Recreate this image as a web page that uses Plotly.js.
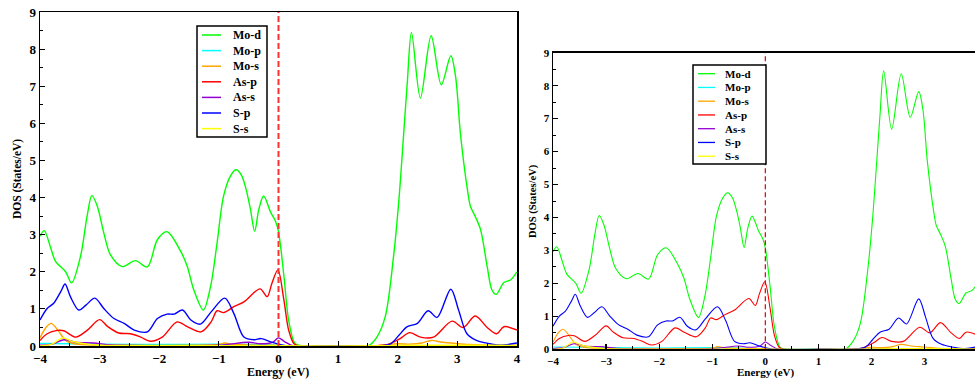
<!DOCTYPE html>
<html><head><meta charset="utf-8">
<script src="https://cdn.plot.ly/plotly-3.0.1.min.js"></script>
<style>html,body{margin:0;padding:0;background:#fff}</style>
</head><body><div id="chart" style="width:975px;height:383px"></div>
<script>
// ---------- data ----------
const seriesNames = ["Mo-d","Mo-p","Mo-s","As-p","As-s","S-p","S-s"];

const eModD = [-4,-3.93,-3.82,-3.74,-3.57,-3.47,-3.32,-3.21,-3.13,-3.04,-2.93,-2.82,-2.62,-2.4,-2.2,-2.03,-1.87,-1.64,-1.53,-1.42,-1.26,-1.14,-1.03,-0.92,-0.8,-0.71,-0.62,-0.54,-0.47,-0.4,-0.33,-0.25,-0.13,-0.05,0,0.09,0.17,0.28,0.4,0.8,1.2,1.5,1.65,1.79,1.93,2.02,2.1,2.16,2.23,2.38,2.56,2.73,2.89,2.97,3.05,3.17,3.22,3.3,3.39,3.5,3.58,3.65,3.78,3.89,4];
const dosModD = [2.96,3.11,2.64,2.28,2.0,1.7,2.42,3.5,4.06,3.77,3.05,2.46,2.14,2.3,2.13,2.87,3.08,2.55,2.14,1.51,0.97,1.6,2.78,4.05,4.6,4.75,4.6,4.2,3.68,3.09,3.68,4.04,3.6,3.36,3.08,1.9,0.7,0.06,0,0,0,0,0.24,0.79,2.42,3.95,5.73,7.1,8.45,6.68,8.36,7.04,7.82,7.26,5.74,4.2,3.76,3.49,3.13,2.14,1.51,1.39,1.71,1.78,2.0];

const eMoP = [-4,-3.5,-3,-2,-1,-0.5,0,0.3,1,2,3,4];
const dosMoP = [0.07,0.06,0.05,0.04,0.05,0.04,0.02,0,0,0.01,0.01,0.01];

const eMoS = [-4,-3.9,-3.81,-3.68,-3.57,-3.43,-3.2,-2.5,-1.5,-1.0,-0.9,-0.8,-0.3,0,0.3,1.6,2.0,2.2,2.4,2.56,2.75,2.9,3.2,3.6,4];
const dosMoS = [0.22,0.5,0.61,0.38,0.15,0.06,0.03,0.02,0.02,0.04,0.08,0.05,0.02,0.02,0,0,0.06,0.05,0.08,0.15,0.1,0.08,0.04,0.02,0.02];

const eAsP = [-4,-3.88,-3.71,-3.6,-3.4,-3.21,-3,-2.87,-2.68,-2.48,-2.31,-2.15,-1.95,-1.7,-1.53,-1.3,-1.13,-1.03,-0.92,-0.75,-0.58,-0.31,-0.19,-0.11,-0.01,0.09,0.17,0.26,0.35,1.0,1.6,1.83,2.04,2.2,2.38,2.6,2.91,3.1,3.3,3.5,3.66,3.78,4];
const dosAsP = [0.15,0.33,0.42,0.41,0.24,0.42,0.71,0.53,0.35,0.33,0.24,0.13,0.24,0.65,0.52,0.38,0.65,0.95,0.9,1.06,1.19,1.54,1.33,1.69,2.05,1.24,0.43,0.06,0,0,0,0.04,0.2,0.36,0.24,0.24,0.67,0.5,0.81,0.5,0.33,0.52,0.43];

const eAsS = [-4,-3.8,-3.6,-3.4,-3.1,-2.8,-2.0,-1.0,-0.5,-0.3,-0.1,0,0.1,0.25,1,2.5,4];
const dosAsS = [0.02,0.05,0.17,0.1,0.08,0.03,0.01,0.02,0.1,0.06,0.1,0.22,0.12,0,0,0.01,0.01];

const eSP = [-4,-3.88,-3.77,-3.65,-3.58,-3.49,-3.35,-3.23,-3.08,-2.93,-2.76,-2.59,-2.42,-2.2,-2.03,-1.87,-1.75,-1.61,-1.47,-1.31,-1.13,-0.9,-0.75,-0.58,-0.41,-0.29,-0.13,0,0.15,0.3,1.0,1.6,1.88,2.02,2.16,2.33,2.51,2.66,2.89,3.02,3.16,3.32,3.55,3.72,4];
const dosSP = [0.7,1.01,1.15,1.47,1.67,1.33,0.97,1.1,1.29,1.01,0.74,0.61,0.43,0.38,0.74,0.86,0.86,0.97,0.7,0.59,0.92,1.29,0.88,0.24,0.17,0.2,0.11,0.05,0,0,0,0,0.06,0.29,0.52,0.61,0.95,0.77,1.53,0.97,0.33,0.15,0.06,0.02,0.08];

const eSS = [-4,-3.8,-3.62,-3.45,-3.2,-3.0,-2,0,1,2.5,3.5,4];
const dosSS = [0,0.05,0.22,0.12,0.05,0.02,0.01,0.01,0,0.02,0.02,0.01];

// ---------- styles ----------
const seriesColors = ["#00ff00","#00ffff","#ffa500","#ff0000","#9400d3","#0000ff","#ffff00"];
const seriesX = [eModD,eMoP,eMoS,eAsP,eAsS,eSP,eSS];
const seriesY = [dosModD,dosMoP,dosMoS,dosAsP,dosAsS,dosSP,dosSS];

const W = 975, H = 383;
const px = v => v / W, py = v => 1 - v / H;
const FONT = "Liberation Serif, Times New Roman, serif";

const traces = [];
[["x","y",1.4],["x2","y2",1.1]].forEach(([xa,ya,lw]) => {
  seriesNames.forEach((n,i) => {
    traces.push({
      x: seriesX[i], y: seriesY[i], name: n, xaxis: xa, yaxis: ya,
      type: "scatter", mode: "lines", showlegend: false, hoverinfo: "skip",
      line: {color: seriesColors[i], width: lw, shape: "spline", smoothing: 0.9}
    });
  });
});

function axisX(domain, range, fs, lw) {
  return {domain, range, anchor: undefined, showgrid: false, zeroline: false,
    showline: true, linecolor: "#000", linewidth: lw, mirror: true,
    ticks: "inside", ticklen: 5, tickwidth: 1.2, tickcolor: "#000",
    tickmode: "linear", tick0: -4, dtick: 1,
    minor: {ticks: "inside", ticklen: 3, tickwidth: 1, tickcolor: "#000", dtick: 0.5},
    tickfont: {family: FONT, size: fs, color: "#000", weight: "bold"}, fixedrange: true};
}
function axisY(domain, fs, lw, mirror) {
  return {domain, range: [0, 9], showgrid: false, zeroline: false,
    showline: true, linecolor: "#000", linewidth: lw, mirror,
    ticks: "inside", ticklen: 5, tickwidth: 1.2, tickcolor: "#000",
    tickmode: "linear", tick0: 0, dtick: 1,
    minor: {ticks: "inside", ticklen: 3, tickwidth: 1, tickcolor: "#000", dtick: 0.5},
    tickfont: {family: FONT, size: fs, color: "#000", weight: "bold"}, fixedrange: true};
}

const xaxis = axisX([px(40), px(517)], [-4, 4], 13, 1.5); xaxis.anchor = "y";
const yaxis = axisY([1 - 346/H, 1 - 12/H], 13, 1.5, true); yaxis.anchor = "x";
const xaxis2 = axisX([px(553), 1], [-4, 3.95], 11, 2); xaxis2.anchor = "y2";
const yaxis2 = axisY([1 - 349.3/H, 1 - 52.7/H], 11, 1.5, false); yaxis2.anchor = "x2";

const shapes = [
  {type: "line", xref: "x", yref: "y domain", x0: 0, x1: 0, y0: 0, y1: 1,
   line: {color: "#ff3030", width: 2, dash: "6px,3px"}},
  {type: "line", xref: "x2", yref: "y2 domain", x0: 0, x1: 0, y0: 0, y1: 1,
   line: {color: "#e00000", width: 1.2, dash: "5px,3px"}}
];
const annotations = [];

function legend(box, y0, dy, lx0, lx1, tx, fs, lw) {
  shapes.push({type: "rect", xref: "paper", yref: "paper",
    x0: px(box[0]), x1: px(box[1]), y0: py(box[3]), y1: py(box[2]),
    line: {color: "#000", width: 1.5}, fillcolor: "#fff"});
  seriesNames.forEach((n, i) => {
    const yy = y0 + i * dy;
    shapes.push({type: "line", xref: "paper", yref: "paper",
      x0: px(lx0), x1: px(lx1), y0: py(yy), y1: py(yy),
      line: {color: seriesColors[i], width: lw}});
    annotations.push({xref: "paper", yref: "paper", x: px(tx), y: py(yy),
      xanchor: "left", yanchor: "middle", showarrow: false, text: n,
      font: {family: FONT, size: fs, color: "#000", weight: "bold"}});
  });
}
legend([197, 267, 26, 137], 35, 15.6, 202, 221, 231, 12, 1.5);
legend([693, 766, 65, 164], 73.7, 13.75, 698, 715, 723, 11, 1.3);

// axis titles
annotations.push(
  {xref: "paper", yref: "paper", x: px(17), y: py(179), textangle: -90, showarrow: false,
   text: "DOS (States/eV)", xanchor: "center", yanchor: "middle",
   font: {family: FONT, size: 11.5, color: "#000", weight: "bold"}},
  {xref: "paper", yref: "paper", x: px(278), y: py(372), showarrow: false,
   text: "Energy (eV)", xanchor: "center", yanchor: "middle",
   font: {family: FONT, size: 12, color: "#000", weight: "bold"}},
  {xref: "paper", yref: "paper", x: px(533), y: py(201), textangle: -90, showarrow: false,
   text: "DOS (States/eV)", xanchor: "center", yanchor: "middle",
   font: {family: FONT, size: 10.5, color: "#000", weight: "bold"}},
  {xref: "paper", yref: "paper", x: px(765.5), y: py(372), showarrow: false,
   text: "Energy (eV)", xanchor: "center", yanchor: "middle",
   font: {family: FONT, size: 11, color: "#000", weight: "bold"}}
);

const layout = {
  width: W, height: H, autosize: false,
  margin: {l: 0, r: 0, t: 0, b: 0, pad: 0},
  paper_bgcolor: "#fff", plot_bgcolor: "#fff",
  showlegend: false,
  xaxis, yaxis, xaxis2, yaxis2, shapes, annotations
};
Plotly.newPlot("chart", traces, layout, {displayModeBar: false, staticPlot: true});
</script>
</body></html>
